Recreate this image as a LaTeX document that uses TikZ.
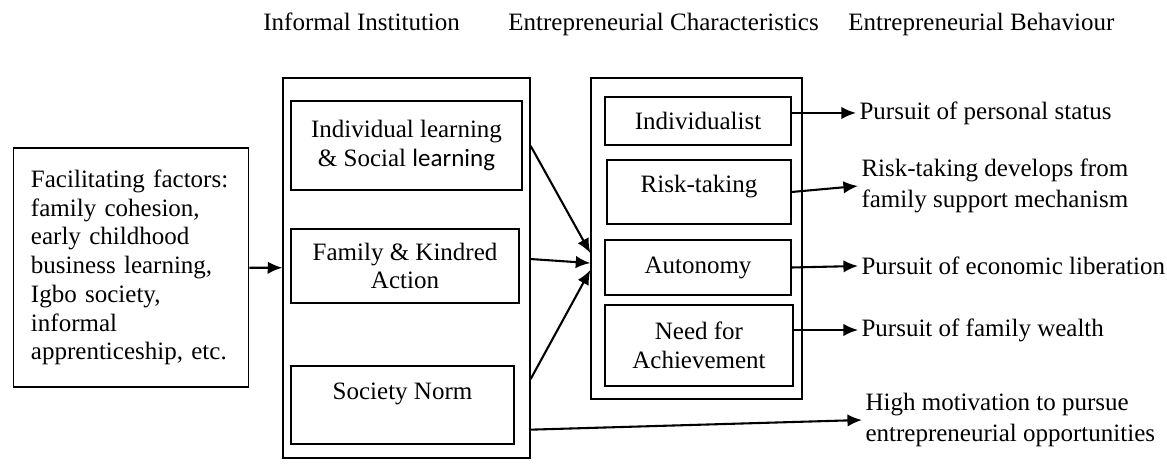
\documentclass[tikz,border=0pt]{standalone}
\usepackage{fontspec}
\setmainfont{Liberation Serif}
\newfontfamily\calibri{Carlito}
\usetikzlibrary{arrows.meta}
\tikzset{
	box/.style={draw, line width=0.6pt, align=center, inner sep=2pt, font=\fontsize{12}{13.8}\selectfont},
	lab/.style={anchor=west, align=left, inner sep=1.5pt, font=\fontsize{12}{15}\selectfont},
	head/.style={anchor=base west, inner sep=0pt, font=\fontsize{12}{13.8}\selectfont},
	arr/.style={line width=1pt, -{Latex[length=7pt,width=6pt]}}
}

\begin{document}
\begin{tikzpicture}[x=0.48pt, y=-0.48pt]
			%%%%% START %%%%%
			\useasboundingbox (0, 0) rectangle (1167, 465);
			
			\node[head] (hinst) at (263, 31) {Informal Institution};
			\node[head] (hchar) at (508, 31) {Entrepreneurial Characteristics};
			\node[head] (hbeh) at (848, 31) {Entrepreneurial Behaviour};
			
			\node[box, align=left, inner xsep=8.5pt, text width=96pt, minimum height=114.7pt] (fac) at (131, 267.5) {Facilitating factors:\\ family cohesion,\\ early childhood\\ business learning,\\ Igbo society,\\ informal\\ apprenticeship, etc.};
			
			\node[box, minimum width=118.6pt, minimum height=182.4pt] (inst) at (406.5, 268) {};
			\node[box, minimum width=110.9pt, minimum height=42.7pt] (indiv) at (406.5, 145.5) {Individual learning\\ \& Social {\calibri learning}};
			\node[box, minimum width=109.4pt, minimum height=35.5pt] (kin) at (405, 266) {Family \& Kindred\\ Action};
			\node[box, text height=9pt, text depth=14.4pt, minimum width=107pt, minimum height=37.4pt] (norm) at (402.5, 405) {Society Norm};
			
			\node[box, minimum width=101.3pt, minimum height=154.1pt] (char) at (696.5, 238.5) {};
			\node[box, minimum width=89.3pt, minimum height=23pt] (indv) at (698, 121) {Individualist};
			\node[box, text height=9pt, text depth=8.8pt, minimum width=88.3pt, minimum height=30.7pt] (risk) at (699, 192) {Risk-taking};
			\node[box, minimum width=89.3pt, minimum height=26.4pt] (auto) at (698, 267.5) {Autonomy};
			\node[box, minimum width=90.2pt, minimum height=38.9pt] (need) at (699, 345.5) {Need for\\ Achievement};
			
			\node[lab] (status) at (856, 113) {Pursuit of personal status};
			\node[lab] (support) at (858, 186) {Risk-taking develops from\\ family support mechanism};
			\node[lab] (liber) at (858, 266) {Pursuit of economic liberation};
			\node[lab] (wealth) at (858, 330) {Pursuit of family wealth};
			\node[lab] (motiv) at (862, 420) {High motivation to pursue\\ entrepreneurial opportunities};
			
			\draw[arr] (fac) -- (inst);
			
			\draw[arr] ([yshift=58.6pt]inst.east) -- ([yshift=-7pt]char.west);
			\draw[arr] ([yshift=4.3pt]inst.east) -- ([yshift=-11.8pt]char.west);
			\draw[arr] ([yshift=-53.3pt]inst.east) -- ([yshift=-15.1pt]char.west);
			
			\draw[arr] (status.west -| indv.east) -- (status.west);
			\draw[arr] (risk.east) -- (support.west);
			\draw[arr] (auto.east) -- (liber.west);
			\draw[arr] (wealth.west -| need.east) -- (wealth.west);
			\draw[arr] ([yshift=13.9pt]inst.south east) -- (motiv.west);
			
			%%%%% END %%%%%
\end{tikzpicture}
\end{document}
